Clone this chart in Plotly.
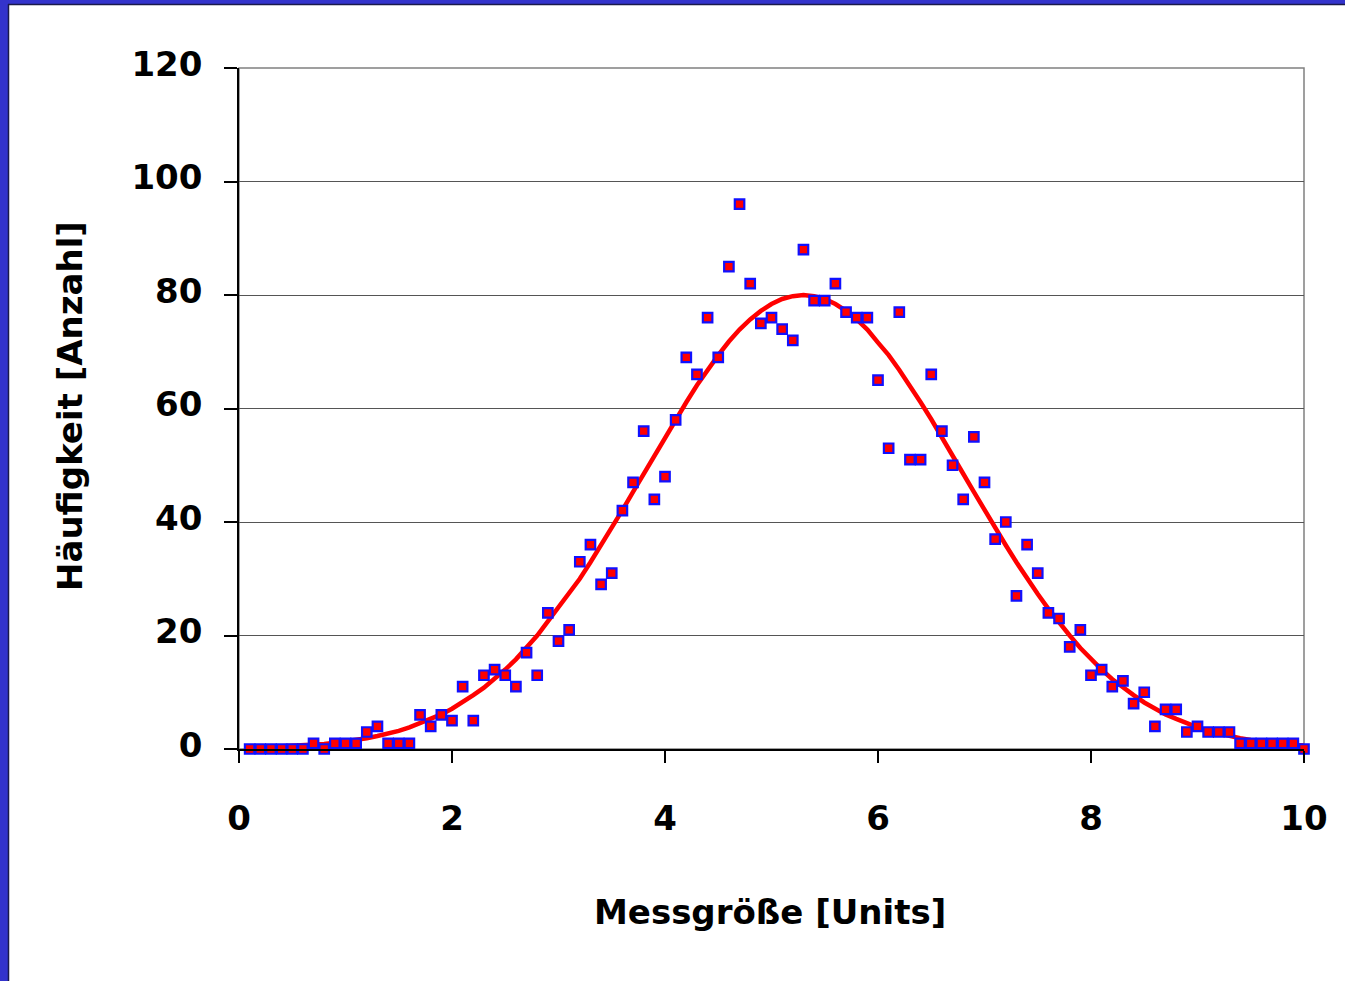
import plotly.graph_objects as go

# ---- data ----
messgroesse = [0.1, 0.2, 0.3, 0.4, 0.5, 0.6, 0.7, 0.8, 0.9, 1.0,
               1.1, 1.2, 1.3, 1.4, 1.5, 1.6, 1.7, 1.8, 1.9, 2.0,
               2.1, 2.2, 2.3, 2.4, 2.5, 2.6, 2.7, 2.8, 2.9, 3.0,
               3.1, 3.2, 3.3, 3.4, 3.5, 3.6, 3.7, 3.8, 3.9, 4.0,
               4.1, 4.2, 4.3, 4.4, 4.5, 4.6, 4.7, 4.8, 4.9, 5.0,
               5.1, 5.2, 5.3, 5.4, 5.5, 5.6, 5.7, 5.8, 5.9, 6.0,
               6.1, 6.2, 6.3, 6.4, 6.5, 6.6, 6.7, 6.8, 6.9, 7.0,
               7.1, 7.2, 7.3, 7.4, 7.5, 7.6, 7.7, 7.8, 7.9, 8.0,
               8.1, 8.2, 8.3, 8.4, 8.5, 8.6, 8.7, 8.8, 8.9, 9.0,
               9.1, 9.2, 9.3, 9.4, 9.5, 9.6, 9.7, 9.8, 9.9, 10.0]

anzahl = [0, 0, 0, 0, 0, 0, 1, 0, 1, 1,
          1, 3, 4, 1, 1, 1, 6, 4, 6, 5,
          11, 5, 13, 14, 13, 11, 17, 13, 24, 19,
          21, 33, 36, 29, 31, 42, 47, 56, 44, 48,
          58, 69, 66, 76, 69, 85, 96, 82, 75, 76,
          74, 72, 88, 79, 79, 82, 77, 76, 76, 65,
          53, 77, 51, 51, 66, 56, 50, 44, 55, 47,
          37, 40, 27, 36, 31, 24, 23, 18, 21, 13,
          14, 11, 12, 8, 10, 4, 7, 7, 3, 4,
          3, 3, 3, 1, 1, 1, 1, 1, 1, 0]

fit_kurve = [0.2, 0.3, 0.3, 0.4, 0.5, 0.6, 0.7, 0.9, 1.1, 1.3,
             1.6, 1.9, 2.3, 2.7, 3.2, 3.8, 4.5, 5.3, 6.1, 7.1,
             8.2, 9.5, 10.8, 12.3, 14.0, 15.8, 17.8, 20.0, 22.5, 24.9,
             27.3, 30.0, 32.9, 35.9, 38.9, 42.1, 45.3, 48.5, 51.8, 55.0,
             58.1, 61.1, 64.1, 66.8, 69.4, 71.8, 73.9, 75.7, 77.2, 78.4,
             79.3, 79.8, 80.0, 79.8, 79.3, 78.4, 77.2, 75.7, 73.9, 71.6,
             69.4, 66.8, 64.1, 61.1, 58.1, 55.0, 51.8, 48.5, 45.3, 42.1,
             38.9, 35.9, 32.9, 30.0, 27.3, 24.7, 22.2, 20.0, 17.8, 15.8,
             14.0, 12.3, 10.8, 9.5, 8.2, 7.1, 6.1, 5.3, 4.5, 3.8,
             3.2, 2.7, 2.3, 1.9, 1.6, 1.3, 1.1, 0.9, 0.7, 0.6]

x_ticks = [0, 2, 4, 6, 8, 10]
y_ticks = [0, 20, 40, 60, 80, 100, 120]

x_title = "Messgröße [Units]"
y_title = "Häufigkeit [Anzahl]"

# ---- layout geometry (pixels) ----
W, H = 1345, 981
ML, MR, MT, MB = 239, 41, 68, 232
PW, PH = W - ML - MR, H - MT - MB

def px_x(p):
    return (p - ML) / PW

def px_y(p):
    return (H - MB - p) / PH

FONT = "Comic Sans MS, DejaVu Sans, sans-serif"

fig = go.Figure()

fig.add_trace(go.Scatter(
    x=messgroesse, y=fit_kurve, mode="lines",
    line=dict(color="#FF0000", width=4.5),
    cliponaxis=False, showlegend=False, hoverinfo="skip"))

fig.add_trace(go.Scatter(
    x=messgroesse, y=anzahl, mode="markers",
    marker=dict(symbol="square", size=9.5, color="#FF0000",
                line=dict(color="#1010FF", width=2.2)),
    cliponaxis=False, showlegend=False))

shapes = [
    # plot area border (grey)
    dict(type="rect", xref="paper", yref="paper", x0=0, x1=1, y0=0, y1=1,
         line=dict(color="#808080", width=1.5), layer="below"),
    # blue frame, left stripe
    dict(type="rect", xref="paper", yref="paper",
         x0=px_x(0), x1=px_x(8), y0=px_y(H), y1=px_y(0),
         fillcolor="#3333CC", line=dict(width=0), layer="above"),
    # blue frame, top stripe
    dict(type="rect", xref="paper", yref="paper",
         x0=px_x(0), x1=px_x(W), y0=px_y(4), y1=px_y(0),
         fillcolor="#3333CC", line=dict(width=0), layer="above"),
    # dark inner edges
    dict(type="line", xref="paper", yref="paper",
         x0=px_x(8.5), x1=px_x(8.5), y0=px_y(H), y1=px_y(4),
         line=dict(color="#1a1a4a", width=1.5), layer="above"),
    dict(type="line", xref="paper", yref="paper",
         x0=px_x(8), x1=px_x(W), y0=px_y(4.5), y1=px_y(4.5),
         line=dict(color="#1a1a4a", width=1.5), layer="above"),
]

fig.update_layout(
    width=W, height=H,
    margin=dict(l=ML, r=MR, t=MT, b=MB, autoexpand=False),
    paper_bgcolor="white", plot_bgcolor="white",
    font=dict(family=FONT, size=34, color="black", weight="bold"),
    shapes=shapes,
    annotations=[
        dict(text=x_title, xref="paper", yref="paper",
             x=px_x(770), y=px_y(912), xanchor="center", yanchor="middle",
             showarrow=False, font=dict(family=FONT, size=34, weight="bold")),
        dict(text=y_title, xref="paper", yref="paper", textangle=-90,
             x=px_x(70), y=px_y(406), xanchor="center", yanchor="middle",
             showarrow=False, font=dict(family=FONT, size=34, weight="bold")),
    ],
)

fig.update_xaxes(
    range=[0, 10], tickvals=x_ticks, ticktext=[str(v) for v in x_ticks],
    showgrid=False, zeroline=False,
    showline=True, linecolor="black", linewidth=1.5,
    ticks="outside", ticklen=12, tickwidth=1.5, tickcolor="black",
    ticklabelstandoff=26, automargin=False,
    tickfont=dict(family=FONT, size=34, weight="bold"))

fig.update_yaxes(
    range=[0, 120], tickvals=y_ticks, ticktext=[str(v) for v in y_ticks],
    showgrid=True, gridcolor="#555555", gridwidth=1, zeroline=False,
    showline=True, linecolor="black", linewidth=1.5,
    ticks="outside", ticklen=13, tickwidth=1.5, tickcolor="black",
    ticklabelstandoff=15, ticklabelshift=-4, automargin=False,
    tickfont=dict(family=FONT, size=34, weight="bold"))

fig.write_html("out.html")
